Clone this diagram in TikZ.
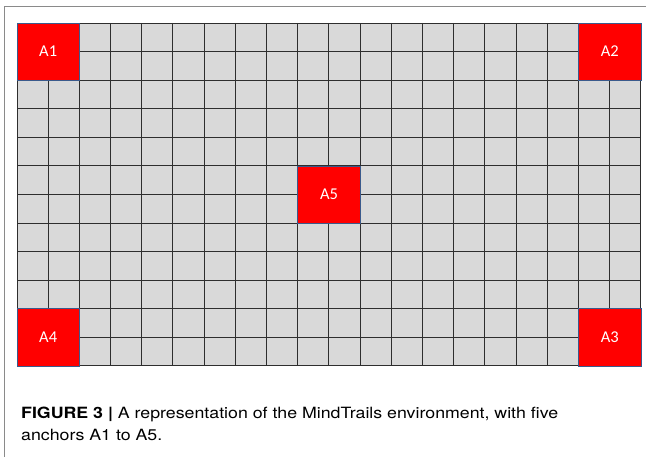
\documentclass[tikz,border=0pt]{standalone}
\usepackage{fontspec}
\setmainfont{TeX Gyre Heros}
\newfontfamily\calfont{Carlito}
\definecolor{gridgray}{HTML}{D9D9D9}
\definecolor{gridcol}{HTML}{2E2E2E}
\definecolor{framegray}{HTML}{8A8A8A}
\definecolor{anchoredge}{HTML}{3A5A8C}
\definecolor{anchorred}{HTML}{FF0000}
\newsavebox\capA
\newsavebox\capB
\begin{document}
\sbox\capA{\fontsize{15.5}{18}\selectfont\textbf{FIGURE 3 |} A representation of the MindTrails environment, with five}%
\sbox\capB{\fontsize{15.5}{18}\selectfont anchors A1 to A5.}%
\pgfmathsetmacro{\capsx}{537/\the\wd\capA}%
\begin{tikzpicture}[x=1pt,y=-1pt,
 gridline/.style={draw=gridcol, line width=1.2pt},
 anchorbox/.style={fill=anchorred, draw=anchoredge, line width=0.8pt, minimum width=62.4pt, minimum height=57.17pt, inner sep=0pt, font=\calfont\fontsize{16.5}{16}\selectfont, text=white},
 caption/.style={anchor=base west, inner sep=0pt}]
\useasboundingbox (0,0) rectangle (646,457);
\draw[framegray, line width=1.2pt] (4.5,457) -- (4.5,6.5) -- (646,6.5);
\fill[gridgray] (17,23) rectangle (641,366);
\foreach \i in {0,...,20} {
  \pgfmathsetmacro{\gx}{floor(17+31.2*\i)+0.5}
  \draw[gridline] (\gx,23) -- (\gx,366);
}
\foreach \j in {0,...,12} {
  \pgfmathsetmacro{\gy}{floor(23+343/12*\j)+0.5}
  \draw[gridline] (17,\gy) -- (641,\gy);
}
\node[anchorbox] (A1) at (48.2,51.58) {A1};
\node[anchorbox] (A2) at (609.8,51.58) {A2};
\node[anchorbox] (A3) at (609.8,337.42) {A3};
\node[anchorbox] (A4) at (48.2,337.42) {A4};
\node[anchorbox] (A5) at (329,194.5) {A5};
\node[caption] (cap1) at (21,418) {\scalebox{\capsx}[1]{\usebox\capA}};
\node[caption] (cap2) at (21,440) {\scalebox{\capsx}[1]{\usebox\capB}};
\end{tikzpicture}
\end{document}
